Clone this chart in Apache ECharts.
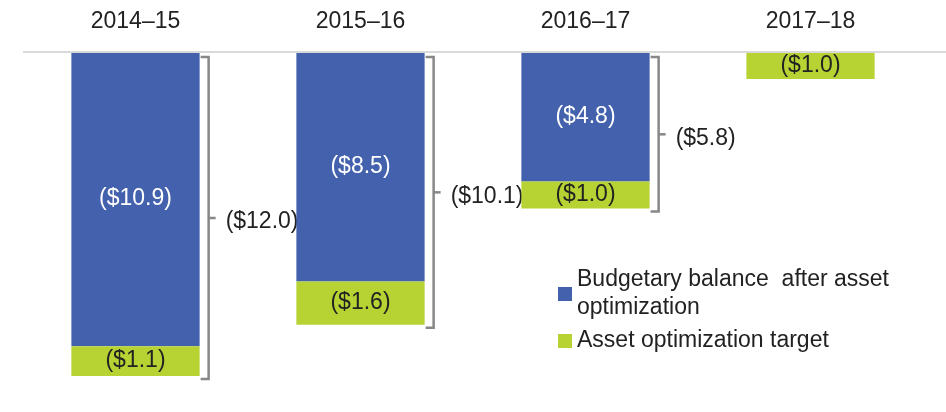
<!DOCTYPE html>
<html>
<head>
<meta charset="utf-8">
<script src="https://cdn.jsdelivr.net/npm/echarts@6/dist/echarts.min.js"></script>
<style>
  html, body { margin: 0; padding: 0; background: #fff; }
  #chart { width: 946px; height: 412px; }
</style>
</head>
<body>
<div id="chart"></div>
<script>
// fiscal years across the top
var years = ['2014\u201315', '2015\u201316', '2016\u201317', '2017\u201318'];
// budgetary balance after asset optimization ($ billions, deficits negative)
var balance = [-10.9, -8.5, -4.8, null];
// asset optimization target
var target = [-1.1, -1.6, -1.0, -1.0];
// bracketed totals shown to the right of the bars
var totals = [-12.0, -10.1, -5.8];

var NAME_BAL = 'Budgetary balance  after asset optimization';
var NAME_TGT = 'Asset optimization target';
var FONT = 'Liberation Sans';
var FS = 23;
var BAR_W = 0.57;

function money(v) {
    return '($' + Math.abs(v).toFixed(1) + ')';
}

var legendBase = {
    orient: 'vertical',
    left: 558,
    padding: 0,
    itemWidth: 14,
    itemHeight: 14,
    icon: 'rect',
    selectedMode: false,
    textStyle: { fontSize: FS, color: '#222', fontFamily: FONT, lineHeight: 28 }
};

var chart = echarts.init(document.getElementById('chart'));

var option = {
    animation: false,
    textStyle: { fontFamily: FONT },
    grid: { left: 23, right: 23, top: 52, bottom: 9 },
    xAxis: {
        type: 'category',
        position: 'top',
        data: years,
        axisLine: { show: false },
        axisTick: { show: false },
        axisLabel: { fontSize: FS, color: '#222', margin: 19, fontFamily: FONT }
    },
    yAxis: {
        type: 'value',
        min: -13,
        max: 0,
        show: false,
        splitLine: { show: false }
    },
    legend: [
        Object.assign({}, legendBase, {
            top: 252,
            formatter: function () { return 'Budgetary balance  after asset\noptimization'; },
            data: [{ name: NAME_BAL, textStyle: { padding: [28, 0, 0, 0] } }]
        }),
        Object.assign({}, legendBase, {
            top: 327,
            data: [{ name: NAME_TGT }]
        })
    ],
    graphic: [{
        type: 'line',
        shape: { x1: 23, y1: 52, x2: 946, y2: 52 },
        style: { stroke: '#d9d9d9', lineWidth: 2 },
        z: 10
    }],
    series: [
        {
            name: NAME_BAL,
            type: 'bar',
            stack: 'total',
            barWidth: (BAR_W * 100) + '%',
            data: balance,
            itemStyle: { color: '#4361ad' },
            label: {
                show: true,
                position: 'inside',
                color: '#fff',
                fontSize: FS,
                fontFamily: FONT,
                formatter: function (p) { return money(p.value); }
            }
        },
        {
            name: NAME_TGT,
            type: 'bar',
            stack: 'total',
            barWidth: (BAR_W * 100) + '%',
            data: target,
            itemStyle: { color: '#b6d333' },
            label: {
                show: true,
                position: 'inside',
                color: '#222',
                fontSize: FS,
                fontFamily: FONT,
                formatter: function (p) { return money(p.value); }
            }
        },
        {
            type: 'custom',
            data: totals.map(function (v, i) { return [i, v]; }),
            renderItem: function (params, api) {
                var idx = api.value(0);
                var top = api.coord([idx, 0]);
                var bot = api.coord([idx, api.value(1)]);
                var band = api.size([1, 0])[0];
                var right = top[0] + band * BAR_W / 2;
                var vx = right + 9;
                var y0 = top[1] + 5;
                var y1 = bot[1] + 3;
                var mid = (y0 + y1) / 2;
                var stroke = { stroke: '#888', lineWidth: 2.5, fill: null };
                return {
                    type: 'group',
                    children: [
                        {
                            type: 'polyline',
                            shape: { points: [[right + 1, y0], [vx, y0], [vx, y1], [right + 1, y1]] },
                            style: stroke
                        },
                        {
                            type: 'line',
                            shape: { x1: vx, y1: mid, x2: vx + 7, y2: mid },
                            style: stroke
                        },
                        {
                            type: 'text',
                            x: vx + 17,
                            y: mid + 4,
                            style: {
                                text: money(api.value(1)),
                                fontSize: FS,
                                fontFamily: FONT,
                                fill: '#222',
                                verticalAlign: 'middle',
                                align: 'left'
                            }
                        }
                    ]
                };
            }
        }
    ]
};

chart.setOption(option);
</script>
</body>
</html>
